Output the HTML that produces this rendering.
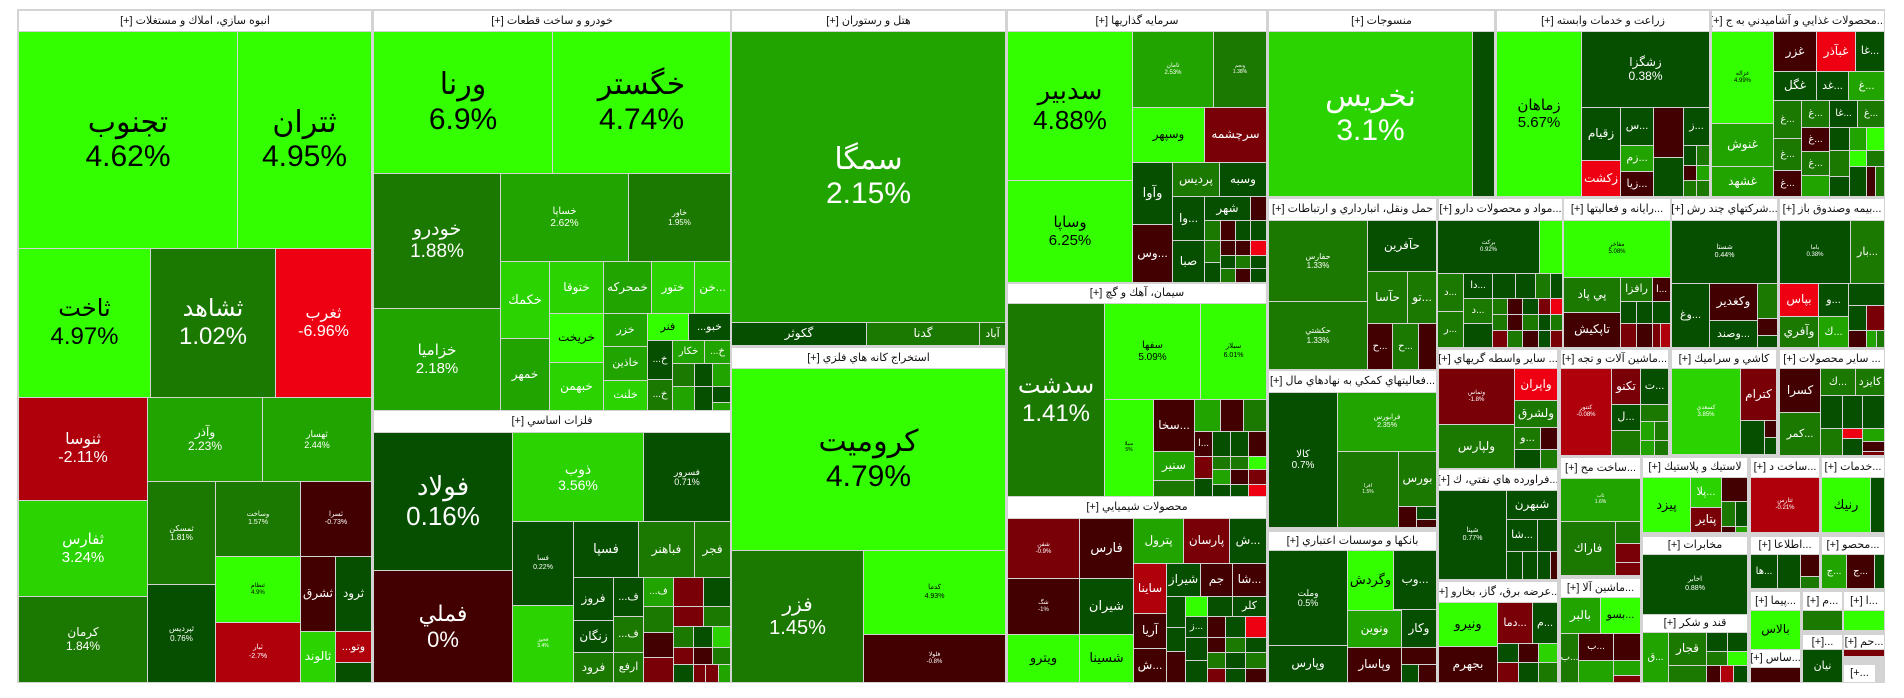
<!DOCTYPE html>
<html><head><meta charset="utf-8">
<style>
html,body{margin:0;padding:0;background:#fff;width:1904px;height:698px;overflow:hidden}
#map{position:absolute;left:17px;top:9px;width:1868px;height:674px;background:#d3d3d3}
.c,.h{position:absolute;box-sizing:border-box;overflow:hidden;display:flex;flex-direction:column;align-items:center;justify-content:center;text-align:center;white-space:nowrap;font-family:"Liberation Sans","DejaVu Sans",sans-serif;direction:rtl;line-height:1.15}
.h{background:#fff;color:#111;font-size:11px}
</style></head><body>
<div id="root"></div>
<script>
const B='#33ff00',G1='#2bd400',G2='#22a400',G3='#1b7800',G4='#064f00',R1='#ee0012',R2='#b0000b',R3='#7a0008',R4='#420000';
const headers=[
[18,10,371,31,'انبوه سازي، املاك و مستغلات [+]'],[373,10,730,31,'خودرو و ساخت قطعات [+]'],[731,10,1005,31,'هتل و رستوران [+]'],
[1007,10,1266,31,'سرمايه گذاريها [+]'],[1268,10,1494,31,'منسوجات [+]'],[1496,10,1709,31,'زراعت و خدمات وابسته [+]'],[1711,10,1884,31,'...محصولات غذايي و آشاميدني به ج [+]'],
[373,410,730,432,'فلزات اساسي [+]'],[731,347,1005,368,'استخراج كانه هاي فلزي [+]'],[1007,283,1266,303,'سيمان، آهك و گچ [+]'],[1007,496,1266,518,'محصولات شيميايي [+]'],
[1268,198,1436,220,'حمل ونقل، انبارداري و ارتباطات [+]'],[1438,198,1562,220,'...مواد و محصولات دارو [+]'],[1563,198,1670,220,'...رايانه و فعاليتها [+]'],[1671,198,1777,220,'...شركتهاي چند رش [+]'],[1779,198,1884,220,'...بيمه وصندوق باز [+]'],
[1268,370,1436,392,'...فعاليتهاي كمكي به نهادهاي مال [+]'],[1268,531,1436,550,'بانكها و موسسات اعتباري [+]'],
[1438,349,1557,368,'... ساير واسطه گريهاي [+]'],[1438,469,1557,490,'...فراورده هاي نفتي، ك [+]'],[1438,581,1557,602,'...عرضه برق، گاز، بخارو [+]'],
[1560,349,1668,368,'...ماشين آلات و تجه [+]'],[1560,457,1640,478,'...ساخت مح [+]'],[1560,578,1640,597,'...ماشين آلا [+]'],
[1671,349,1776,368,'كاشي و سراميك [+]'],[1779,349,1884,368,'... ساير محصولات [+]'],
[1642,457,1747,477,'لاستيك و پلاستيك [+]'],[1750,457,1819,477,'...ساخت د [+]'],[1821,457,1884,477,'...خدمات [+]'],
[1642,536,1747,554,'مخابرات [+]'],[1642,614,1747,632,'قند و شكر [+]'],[1750,536,1819,554,'...اطلاعا [+]'],[1821,536,1884,554,'...محصو [+]'],
[1750,591,1800,610,'...پيما [+]'],[1802,591,1842,610,'...م [+]'],[1843,591,1884,610,'...ا [+]'],
[1802,634,1842,649,'...[+]'],[1843,634,1884,649,'...حم [+]'],[1750,649,1800,667,'...ساس [+]'],[1843,664,1875,682,'...+]']
];
const cells=[
[18,31,237,248,B,'تجنوب','4.62%',30],[237,31,371,248,B,'ثتران','4.95%',30],[18,248,150,397,B,'ثاخت','4.97%',24],[150,248,275,397,G3,'ثشاهد','1.02%',24],[275,248,371,397,R1,'ثغرب','-6.96%',16],
[18,397,147,500,R2,'ثنوسا','-2.11%',16],[18,500,147,596,G1,'ثفارس','3.24%',15],[18,596,147,682,G3,'كرمان','1.84%',12],[147,397,262,481,G2,'وآذر','2.23%',12],[262,397,371,481,G2,'ثهسار','2.44%',9],
[147,481,215,584,G3,'ثمسكن','1.81%',8],[147,584,215,682,G4,'ثپرديس','0.76%',8],[215,481,300,556,G3,'وساخت','1.57%',7],[215,556,300,622,B,'ثنظام','4.9%',6],[215,622,300,682,R2,'ثبار','-2.7%',7],
[300,481,371,556,R4,'ثسرا','-0.73%',7],[300,556,335,631,R4,'ثشرق','',12],[335,556,371,631,G4,'ثرود','',12],[300,631,335,682,G1,'ثالوند','',12],[335,631,371,662,R2,'وتو...','',11],[335,662,371,682,G4,'','',0],
[373,31,552,173,B,'ورنا','6.9%',30],[552,31,730,173,B,'خگستر','4.74%',30],[373,173,500,308,G3,'خودرو','1.88%',19],[373,308,500,410,G2,'خزاميا','2.18%',15],[500,173,628,261,G2,'خساپا','2.62%',10],[628,173,730,261,G3,'خاور','1.95%',8],
[500,261,549,338,G1,'خكمك','',13],[549,261,603,313,G1,'ختوقا','',12],[603,261,651,313,G2,'خمحركه','',12],[651,261,694,313,G1,'ختور','',12],[694,261,730,313,G1,'...خن','',12],
[549,313,603,362,B,'خريخت','',12],[549,362,603,410,G1,'خبهمن','',12],[500,338,549,410,G2,'خمهر','',12],[603,313,647,346,G2,'خزر','',11],[603,346,647,380,G2,'خاذين','',11],[603,380,647,410,G1,'خلنت','',11],
[647,313,688,340,B,'فنر','',11],[688,313,730,340,G4,'خبو...','',11],[647,340,672,379,G4,'خ...','',10],[672,340,704,363,G2,'خكار','',10],[704,340,730,363,G2,'خ...','',10],
[647,379,672,410,G3,'خ...','',10],[672,363,694,386,G3,'','',0],[694,363,712,386,G4,'','',0],[712,363,730,386,G2,'','',0],[672,386,694,410,G2,'','',0],[694,386,712,410,G4,'','',0],[712,386,730,402,G4,'','',0],[712,402,730,410,G2,'','',0],
[373,432,512,570,G4,'فولاد','0.16%',26],[373,570,512,682,R4,'فملي','0%',22],[512,432,643,521,G1,'ذوب','3.56%',14],[643,432,730,521,G4,'فسرور','0.71%',9],[512,521,573,605,G4,'فسا','0.22%',7],[512,605,573,682,G1,'فخوز','3.4%',5],
[573,521,638,577,G4,'فسپا','',13],[638,521,694,577,G3,'فباهنر','',12],[694,521,730,577,G3,'فجر','',12],[573,577,613,620,G4,'فروز','',12],[613,577,643,616,G4,'ف...','',11],[573,620,613,652,G4,'زنگان','',12],[613,616,643,652,G3,'ف...','',11],[573,652,613,682,G3,'فرود','',12],[613,652,643,682,G3,'ارفع','',11],
[643,577,673,606,G2,'ف...','',10],[673,577,703,606,R3,'','',0],[703,577,730,606,G4,'','',0],[643,606,673,632,G3,'','',0],[673,606,703,626,R3,'','',0],[703,606,730,626,G3,'','',0],
[643,632,673,657,R4,'','',0],[673,626,693,647,G3,'','',0],[693,626,712,647,G4,'','',0],[712,626,730,647,G1,'','',0],[643,657,673,682,R3,'','',0],[673,647,693,664,R3,'','',0],[693,647,712,664,R4,'','',0],[712,647,730,664,G3,'','',0],
[673,664,693,682,G4,'','',0],[693,664,705,682,R3,'','',0],[705,664,718,682,R3,'','',0],[718,664,730,682,G2,'','',0],
[731,31,1005,322,G2,'سمگا','2.15%',30],[731,322,866,345,G4,'گكوثر','',12],[866,322,979,345,G3,'گدنا','',12],[979,322,1005,345,G3,'آباد','',11],
[731,368,1005,550,B,'كروميت','4.79%',30],[731,550,863,682,G3,'فزر','1.45%',20],[863,550,1005,634,B,'كدما','4.93%',7],[863,634,1005,682,R4,'فلولا','-0.8%',6],
[1007,31,1132,180,B,'سدبير','4.88%',26],[1007,180,1132,282,B,'وساپا','6.25%',15],[1132,31,1213,107,G2,'ثامان','2.53%',6],[1213,31,1266,107,G3,'ونجم','1.38%',5],[1132,107,1204,162,B,'وسپهر','',12],[1204,107,1266,162,R3,'سرچشمه','',12],
[1132,162,1172,224,G4,'وآوا','',13],[1132,224,1172,282,R4,'...وس','',12],[1172,162,1219,196,G3,'پرديس','',12],[1219,162,1266,196,G4,'وسبه','',12],[1172,196,1204,240,G4,'...وا','',12],[1204,196,1250,220,G4,'شهر','',12],[1250,196,1266,220,R4,'','',0],[1172,240,1204,282,G4,'صبا','',12],
[1204,220,1220,240,G3,'','',0],[1220,220,1235,240,R4,'','',0],[1235,220,1250,240,G4,'','',0],[1250,220,1266,240,G4,'','',0],[1204,240,1220,262,G3,'','',0],[1220,240,1235,255,R4,'','',0],[1235,240,1250,255,R4,'','',0],[1250,240,1266,255,R1,'','',0],
[1220,255,1235,268,G4,'','',0],[1235,255,1250,268,G3,'','',0],[1250,255,1266,268,G4,'','',0],[1204,262,1220,282,G4,'','',0],[1220,268,1235,282,G3,'','',0],[1235,268,1250,282,R4,'','',0],[1250,268,1266,282,G4,'','',0],
[1007,303,1104,496,G3,'سدشت','1.41%',24],[1104,303,1200,399,B,'سفها','5.09%',10],[1200,303,1266,399,B,'سبلار','6.01%',7],[1104,399,1153,496,B,'سيلا','5%',5],[1153,399,1194,451,R4,'...سخا','',12],[1153,451,1194,480,G2,'سنير','',12],[1153,480,1194,496,G3,'','',0],
[1194,399,1220,431,G2,'','',0],[1220,399,1243,431,R4,'','',0],[1243,399,1266,431,G3,'','',0],[1194,431,1212,456,R4,'...ا','',10],[1212,431,1230,456,G4,'','',0],[1230,431,1248,456,G4,'','',0],[1248,431,1266,456,R4,'','',0],
[1194,456,1212,478,R3,'','',0],[1212,456,1230,469,G3,'','',0],[1230,456,1248,469,G3,'','',0],[1248,456,1266,469,B,'','',0],[1212,469,1230,484,G2,'','',0],[1230,469,1248,484,R4,'','',0],[1248,469,1266,484,R3,'','',0],
[1194,478,1212,496,G4,'','',0],[1212,484,1230,496,G4,'','',0],[1230,484,1248,496,G4,'','',0],[1248,484,1266,496,R1,'','',0],
[1007,518,1079,578,R3,'شفن','-0.9%',6],[1007,578,1079,634,R4,'شگ','-1%',6],[1007,634,1079,682,B,'ويترو','',13],[1079,518,1133,578,R4,'فارس','',13],[1079,578,1133,634,G4,'شيران','',13],[1079,634,1133,682,B,'شسينا','',13],
[1133,518,1183,563,G2,'پترول','',12],[1183,518,1229,563,R3,'پارسان','',12],[1229,518,1266,563,G4,'...ش','',12],[1133,563,1166,613,R2,'ساينا','',12],[1166,563,1200,596,G4,'شيراز','',12],[1200,563,1232,596,R4,'جم','',12],[1232,563,1266,596,R4,'...شا','',12],
[1133,613,1166,648,R4,'آريا','',12],[1133,648,1166,682,R4,'...ش','',12],[1166,596,1185,627,G4,'','',0],[1185,596,1207,616,B,'','',0],[1207,596,1232,616,G4,'','',0],[1232,596,1266,616,G4,'كلر','',11],
[1166,627,1185,651,G4,'','',0],[1185,616,1207,637,G4,'...ز','',10],[1207,616,1225,637,R4,'','',0],[1225,616,1245,637,G4,'','',0],[1245,616,1266,637,R1,'','',0],
[1166,651,1185,682,R4,'','',0],[1185,637,1207,660,G4,'','',0],[1207,637,1225,652,R4,'','',0],[1225,637,1245,652,G3,'','',0],[1245,637,1266,652,G4,'','',0],
[1207,652,1225,668,G3,'','',0],[1225,652,1245,668,G4,'','',0],[1245,652,1266,668,G3,'','',0],[1185,660,1207,682,G4,'','',0],[1207,668,1225,682,R3,'','',0],[1225,668,1245,682,G4,'','',0],[1245,668,1266,682,R4,'','',0],
[1268,31,1472,196,G1,'نخريس','3.1%',30],[1472,31,1494,196,G4,'','',0],
[1496,31,1581,196,B,'زماهان','5.67%',15],[1581,31,1709,107,G4,'زشگزا','0.38%',12],[1581,107,1620,160,G4,'زقيام','',12],[1581,160,1620,196,R1,'زكشت','',12],[1620,107,1653,145,G4,'...س','',11],[1653,107,1683,157,R4,'','',0],[1683,107,1709,145,G4,'...ز','',11],
[1620,145,1653,171,G2,'...زم','',11],[1620,171,1653,196,R4,'...زيا','',11],[1653,157,1683,196,G4,'','',0],[1683,145,1696,165,G4,'','',0],[1696,145,1709,165,G3,'','',0],[1683,165,1696,180,R4,'','',0],[1696,165,1709,180,G2,'','',0],[1683,180,1696,196,G3,'','',0],[1696,180,1709,196,G3,'','',0],
[1711,31,1773,123,B,'غزاله','4.99%',6],[1711,123,1773,166,G2,'غنوش','',12],[1711,166,1773,196,G2,'غشهد','',12],[1773,31,1816,71,R4,'غزر','',12],[1816,31,1855,71,R1,'غبآذر','',12],[1855,31,1884,71,G4,'...غا','',11],
[1773,71,1816,100,G4,'غگل','',12],[1816,71,1848,100,G4,'...غد','',11],[1848,71,1884,100,G2,'...غ','',11],[1773,100,1801,138,G3,'...غ','',10],[1801,100,1829,127,G3,'...غ','',10],[1829,100,1857,127,G4,'...غا','',10],[1857,100,1884,127,G3,'...غ','',10],
[1829,127,1849,150,G4,'','',0],[1849,127,1866,150,G2,'','',0],[1866,127,1884,150,B,'','',0],[1801,127,1829,151,R4,'...غ','',10],[1773,138,1801,170,G3,'...غ','',10],[1801,151,1829,175,G3,'...غ','',10],
[1829,150,1849,176,G3,'','',0],[1849,150,1866,166,B,'','',0],[1866,150,1884,166,G3,'','',0],[1773,170,1801,196,R4,'...غ','',10],[1801,175,1829,196,G2,'','',0],[1829,176,1849,196,G4,'','',0],[1849,166,1866,196,G4,'','',0],[1866,166,1875,196,R4,'','',0],[1875,166,1884,196,G3,'','',0],
[1268,220,1367,301,G3,'حفارس','1.33%',8],[1268,301,1367,369,G3,'حكشتي','1.33%',8],[1367,220,1436,271,G4,'حآفرين','',12],[1367,271,1407,323,G3,'حآسا','',12],[1407,271,1436,323,G3,'...تو','',12],[1367,323,1392,369,R4,'...ح','',10],[1392,323,1418,369,G3,'...ح','',10],[1418,323,1436,369,R4,'','',0],
[1437,220,1539,273,G4,'بركت','0.92%',6],[1539,220,1562,273,B,'','',0],[1437,273,1463,311,G3,'...د','',10],[1463,273,1492,298,G4,'...دا','',10],[1437,311,1463,347,G3,'...ر','',10],[1463,298,1492,323,G3,'...د','',10],[1463,323,1492,347,G4,'','',0],
[1492,273,1515,298,G4,'','',0],[1515,273,1535,298,G4,'','',0],[1535,273,1550,298,G3,'','',0],[1550,273,1562,298,G4,'','',0],[1492,298,1507,314,G3,'','',0],[1507,298,1522,314,R4,'','',0],[1522,298,1538,314,G4,'','',0],[1538,298,1550,314,R3,'','',0],[1550,298,1562,314,R1,'','',0],
[1492,314,1507,330,G3,'','',0],[1507,314,1522,330,R4,'','',0],[1522,314,1538,330,G3,'','',0],[1538,314,1550,330,G4,'','',0],[1550,314,1562,330,G3,'','',0],[1492,330,1507,347,R3,'','',0],[1507,330,1522,347,G3,'','',0],[1522,330,1538,347,R4,'','',0],[1538,330,1550,347,G4,'','',0],[1550,330,1562,347,R3,'','',0],
[1563,220,1670,277,B,'مفاخر','5.08%',6],[1563,277,1620,312,G3,'پي پاد','',12],[1620,277,1652,301,G3,'رافزا','',11],[1652,277,1670,301,R4,'...ا','',10],[1563,312,1620,347,R4,'تاپكيش','',12],
[1620,301,1636,323,G4,'','',0],[1636,301,1652,323,G4,'','',0],[1652,301,1670,323,G4,'','',0],[1620,323,1636,347,R3,'','',0],[1636,323,1652,347,R4,'','',0],[1652,323,1660,347,R3,'','',0],[1660,323,1670,347,R2,'','',0],
[1671,220,1777,283,G4,'شستا','0.44%',7],[1671,283,1709,347,G4,'...وغ','',11],[1709,283,1757,320,R4,'وكغدير','',12],[1709,320,1757,347,G4,'...وصند','',11],[1757,283,1777,318,G3,'','',0],[1757,318,1777,335,R4,'','',0],[1757,335,1777,347,G4,'','',0],
[1779,220,1850,283,G4,'باما','0.38%',6],[1850,220,1884,283,G3,'...بار','',11],[1779,283,1818,316,R1,'بپاس','',12],[1818,283,1848,316,G4,'...و','',11],[1779,316,1818,347,G3,'وآفري','',12],[1818,316,1848,347,G2,'...ك','',11],
[1848,283,1884,305,G4,'','',0],[1848,305,1866,330,G4,'','',0],[1866,305,1884,330,R3,'','',0],[1848,330,1866,347,R4,'','',0],[1866,330,1876,347,G2,'','',0],[1876,330,1884,347,G3,'','',0],
[1268,392,1337,527,G4,'كالا','0.7%',10],[1337,392,1436,451,G2,'فرابورس','2.35%',7],[1337,451,1398,527,G3,'افرا','1.5%',5],[1398,451,1436,506,G3,'بورس','',12],[1398,506,1416,527,R4,'','',0],[1416,506,1436,519,G4,'','',0],[1416,519,1436,527,R4,'','',0],
[1268,550,1347,645,G4,'وملت','0.5%',9],[1268,645,1347,682,G4,'وپارس','',12],[1347,550,1393,610,B,'وگردش','',13],[1393,550,1436,609,G4,'...وب','',12],[1347,610,1401,647,G2,'ونوين','',12],[1401,609,1436,647,G4,'وكار','',12],[1347,647,1401,682,R4,'وپاسار','',12],[1401,647,1436,664,R4,'','',0],[1401,664,1418,682,G4,'','',0],[1418,664,1436,682,R4,'','',0],
[1438,368,1514,424,R3,'وتماس','-1.8%',6],[1514,368,1557,400,R1,'واپران','',12],[1514,400,1557,427,G3,'ولشرق','',12],[1438,424,1514,468,G3,'ولپارس','',12],[1514,427,1540,449,G3,'...و','',11],[1540,427,1557,449,R4,'','',0],[1514,449,1540,468,G4,'','',0],[1540,449,1557,468,G3,'','',0],
[1438,490,1506,579,G4,'شپنا','0.77%',7],[1506,490,1557,519,G4,'شبهرن','',12],[1506,519,1537,551,G4,'...شا','',11],[1537,519,1557,551,G4,'','',0],[1506,551,1522,579,G4,'','',0],[1522,551,1537,579,G4,'','',0],[1537,551,1550,579,G4,'','',0],[1550,551,1557,579,R4,'','',0],
[1438,602,1497,646,B,'ونيرو','',13],[1438,646,1497,682,R4,'بجهرم','',12],[1497,602,1532,643,R3,'...دما','',11],[1532,602,1557,643,G4,'...م','',11],[1497,643,1518,662,G4,'','',0],[1518,643,1538,662,R4,'','',0],[1538,643,1557,662,G1,'','',0],[1497,662,1518,682,R3,'','',0],[1518,662,1538,682,G4,'','',0],[1538,662,1557,682,G3,'','',0],
[1560,368,1611,455,R2,'كنتور','-0.08%',6],[1611,368,1640,404,R3,'تكنو','',12],[1640,368,1668,404,G4,'...ت','',11],[1611,404,1640,430,G4,'...ل','',11],[1640,404,1668,421,G3,'','',0],[1611,430,1640,455,G3,'','',0],[1640,421,1654,440,G2,'','',0],[1654,421,1668,440,G3,'','',0],[1640,440,1654,455,G2,'','',0],[1654,440,1668,455,G3,'','',0],
[1560,478,1640,521,G2,'ثاب','1.6%',5],[1560,521,1615,575,G3,'فاراك','',12],[1615,521,1640,543,G3,'','',0],[1615,543,1640,562,R3,'','',0],[1615,562,1640,575,R3,'','',0],
[1560,597,1600,633,G2,'بالبر','',12],[1600,597,1640,633,B,'...بسو','',11],[1560,633,1578,682,G3,'...ب','',10],[1578,633,1613,660,R4,'...ب','',10],[1613,633,1640,660,R4,'','',0],[1578,660,1613,682,G2,'','',0],[1613,660,1640,675,G2,'','',0],[1613,675,1640,682,R3,'','',0],
[1671,368,1740,454,G1,'كسعدي','3.85%',6],[1740,368,1776,420,R3,'كترام','',12],[1740,420,1764,454,G4,'','',0],[1764,420,1776,437,R4,'','',0],[1764,437,1776,454,G4,'','',0],
[1779,368,1820,412,R4,'كسرا','',12],[1779,412,1820,455,G3,'...كمر','',11],[1820,368,1855,395,G3,'...ك','',11],[1855,368,1884,395,G3,'كايزد','',11],[1820,395,1842,428,G4,'','',0],[1842,395,1862,428,G4,'','',0],[1862,395,1884,428,G4,'','',0],
[1820,428,1842,455,G3,'','',0],[1842,428,1862,438,R1,'','',0],[1842,438,1862,455,G4,'','',0],[1862,428,1884,441,G2,'','',0],[1862,441,1884,451,R4,'','',0],[1862,451,1884,455,R3,'','',0],
[1642,477,1690,532,B,'پيزد','',13],[1690,477,1721,507,G1,'...پلا','',11],[1690,507,1721,532,R3,'پتاير','',12],[1721,477,1747,501,R4,'','',0],[1721,501,1735,526,G3,'','',0],[1735,501,1747,526,G4,'','',0],[1721,526,1735,532,R4,'','',0],[1735,526,1747,532,G2,'','',0],
[1750,477,1819,532,R2,'ثتارس','-0.21%',6],[1821,477,1870,532,B,'رنيك','',13],[1870,477,1884,532,G4,'','',0],
[1642,554,1747,614,G4,'اخابر','0.88%',7],
[1642,632,1668,682,G2,'...ق','',10],[1668,632,1706,665,G3,'قجار','',12],[1668,665,1706,682,G3,'','',0],[1706,632,1727,651,G4,'','',0],[1727,632,1747,651,G4,'','',0],[1706,651,1727,665,G3,'','',0],[1727,651,1747,665,B,'','',0],[1706,665,1720,682,R4,'','',0],[1720,665,1733,682,R2,'','',0],[1733,665,1747,682,G4,'','',0],
[1750,554,1777,588,G4,'...ها','',10],[1777,554,1800,588,G4,'','',0],[1800,554,1819,576,R4,'','',0],[1800,576,1819,588,G3,'','',0],
[1821,554,1846,588,G2,'...ج','',10],[1846,554,1874,588,R4,'...ج','',10],[1874,554,1884,588,G4,'','',0],
[1750,610,1800,649,B,'بالاس','',12],[1802,610,1842,630,G3,'','',0],[1843,610,1884,630,B,'','',0],[1843,649,1884,656,R3,'','',0],[1750,667,1800,682,R4,'','',0],[1802,649,1842,682,G4,'نيان','',11]
];
const root=document.getElementById('root');
const map=document.createElement('div');
map.id='map';


root.appendChild(map);
function place(el,x1,y1,x2,y2){el.style.left=(x1-17+1)+'px';el.style.top=(y1-9+1)+'px';el.style.width=(x2-x1-1)+'px';el.style.height=(y2-y1-1)+'px';}
headers.forEach(h=>{
  const d=document.createElement('div');d.className='h';place(d,h[0],h[1],h[2],h[3]);d.textContent=h[4];
  
  
  map.appendChild(d);
});
cells.forEach(c=>{
  const d=document.createElement('div');d.className='c';place(d,c[0],c[1],c[2],c[3]);
  d.style.background=c[4];d.style.color=(c[4]===B)?'#000':'#fff';
  const fs=c[7]||10;d.style.fontSize=fs+'px';
  if(c[5]){const a=document.createElement('div');a.textContent=c[5];d.appendChild(a);}
  if(c[6]){const b=document.createElement('div');b.textContent=c[6];b.style.direction='ltr';d.appendChild(b);}
  
  
  map.appendChild(d);
});
</script>
</body></html>
